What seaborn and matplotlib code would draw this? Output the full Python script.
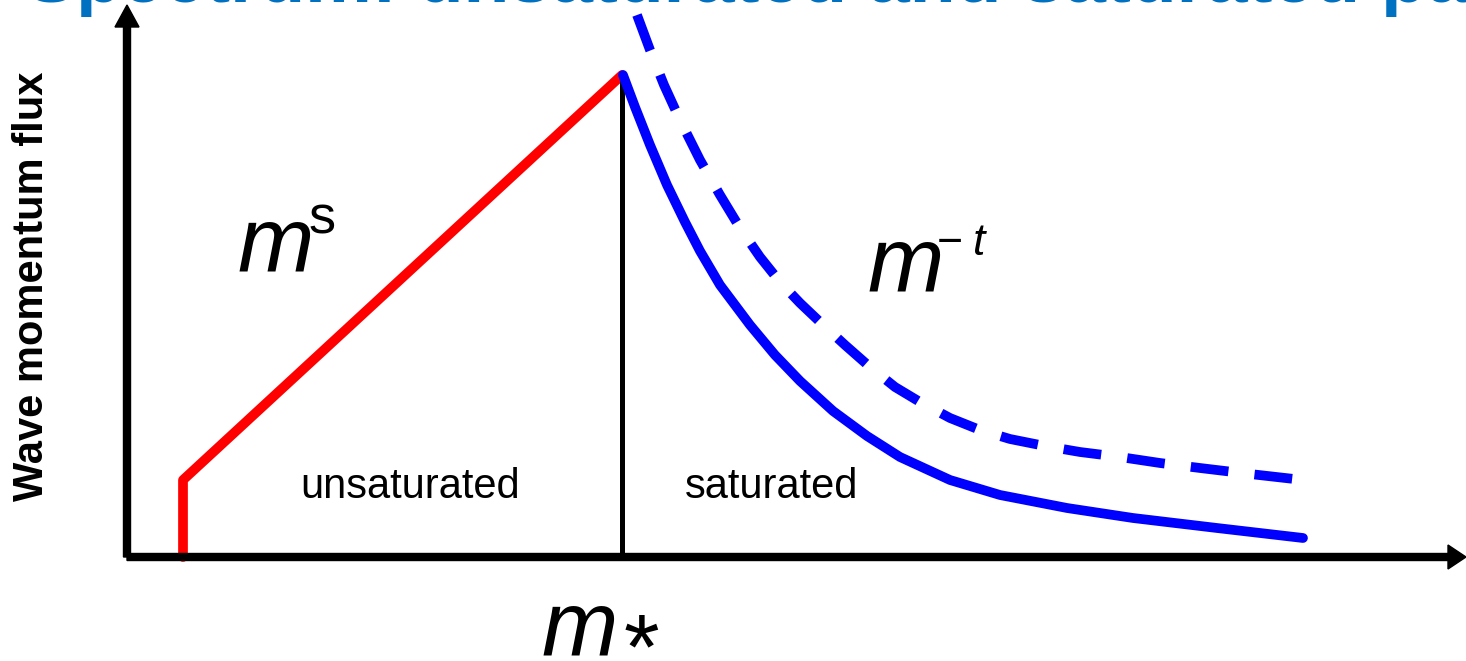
import matplotlib
matplotlib.use("Agg")
import matplotlib.pyplot as plt
import seaborn as sns
import pandas as pd

# data, in axis units with origin at the corner of the two arrows
red_x = [56, 56, 495]
red_y = [0, 77, 482]

mstar_x = [495, 495]
mstar_y = [0, 482]

sat_x = [496, 508, 523, 540, 558, 573, 593, 623, 648, 673, 706, 740,
         773, 823, 873, 940, 1006, 1090, 1176]
sat_y = [482, 450, 412, 372, 335, 306, 272, 232, 202, 176, 146, 121,
         100, 77, 62, 49, 39, 29, 19]

dash_x = [510, 523, 537, 553, 573, 593, 613, 633, 653, 673, 693, 718,
          743, 768, 793, 823, 853, 883, 918, 953, 993, 1033, 1073, 1123, 1176]
dash_y = [542, 507, 472, 437, 397, 362, 329, 300, 275, 254, 235, 212,
          190, 170, 155, 139, 127, 118, 111, 105, 100, 94, 89, 83, 77]

TITLE = "Spectrum: unsaturated and saturated parts"
YLABEL = "Wave momentum flux"

#%%
sns.set_theme(style="white")
plt.rcParams["font.family"] = ["Liberation Sans", "DejaVu Sans"]
plt.rcParams["text.color"] = "black"

fig = plt.figure(figsize=(14.66, 6.61), dpi=100)
ax = fig.add_axes([0, 0, 1, 1])
ax.set_xlim(-127, 1339)
ax.set_ylim(-104, 557)
ax.axis("off")

red = pd.DataFrame({"x": red_x, "y": red_y})
sat = pd.DataFrame({"x": sat_x, "y": sat_y})
dsh = pd.DataFrame({"x": dash_x, "y": dash_y})

sns.lineplot(data=red, x="x", y="y", estimator=None, sort=False,
             color="#ff0000", lw=7, ax=ax)
sns.lineplot(x=mstar_x, y=mstar_y, estimator=None, sort=False,
             color="black", lw=3.6, ax=ax)
sns.lineplot(data=sat, x="x", y="y", estimator=None, sort=False,
             color="#0000ff", lw=7, ax=ax)
sns.lineplot(data=dsh, x="x", y="y", estimator=None, sort=False,
             color="#0000ff", lw=7, linestyle=(0, (3.9, 2.7)),
             ax=ax)

# axes arrows
ax.arrow(0, 0, 0, 552, width=7, head_width=24, head_length=22,
         length_includes_head=True, color="black", zorder=5)
ax.arrow(0, 0, 1339, 0, width=7, head_width=24, head_length=18,
         length_includes_head=True, color="black", zorder=5)

# labels
ax.text(110, 285, "m", fontsize=66, style="italic", ha="left", va="baseline")
ax.text(182, 324, "s", fontsize=39, ha="left", va="baseline")
ax.text(740, 265, "m", fontsize=66, style="italic", ha="left", va="baseline")
ax.text(810, 302, "\u2212", fontsize=32, ha="left", va="baseline")
ax.text(846, 302, "t", fontsize=32, style="italic", ha="left", va="baseline")
ax.text(414, -99, "m", fontsize=66, style="italic", ha="left", va="baseline")
ax.text(497, -121, "*", fontsize=66, ha="left", va="baseline")

ax.text(173, 59, "unsaturated", fontsize=30, ha="left", va="baseline")
ax.text(558, 59, "saturated", fontsize=30, ha="left", va="baseline")

ax.text(-95, 271, YLABEL, fontsize=30, fontweight="bold", rotation=90,
        ha="center", va="center")

fig.text(26 / 1466, 1 - 2 / 661, TITLE, fontsize=54, fontweight="bold",
         color="#0070C0", ha="left", va="baseline")

fig.savefig("out.png", dpi=100)
